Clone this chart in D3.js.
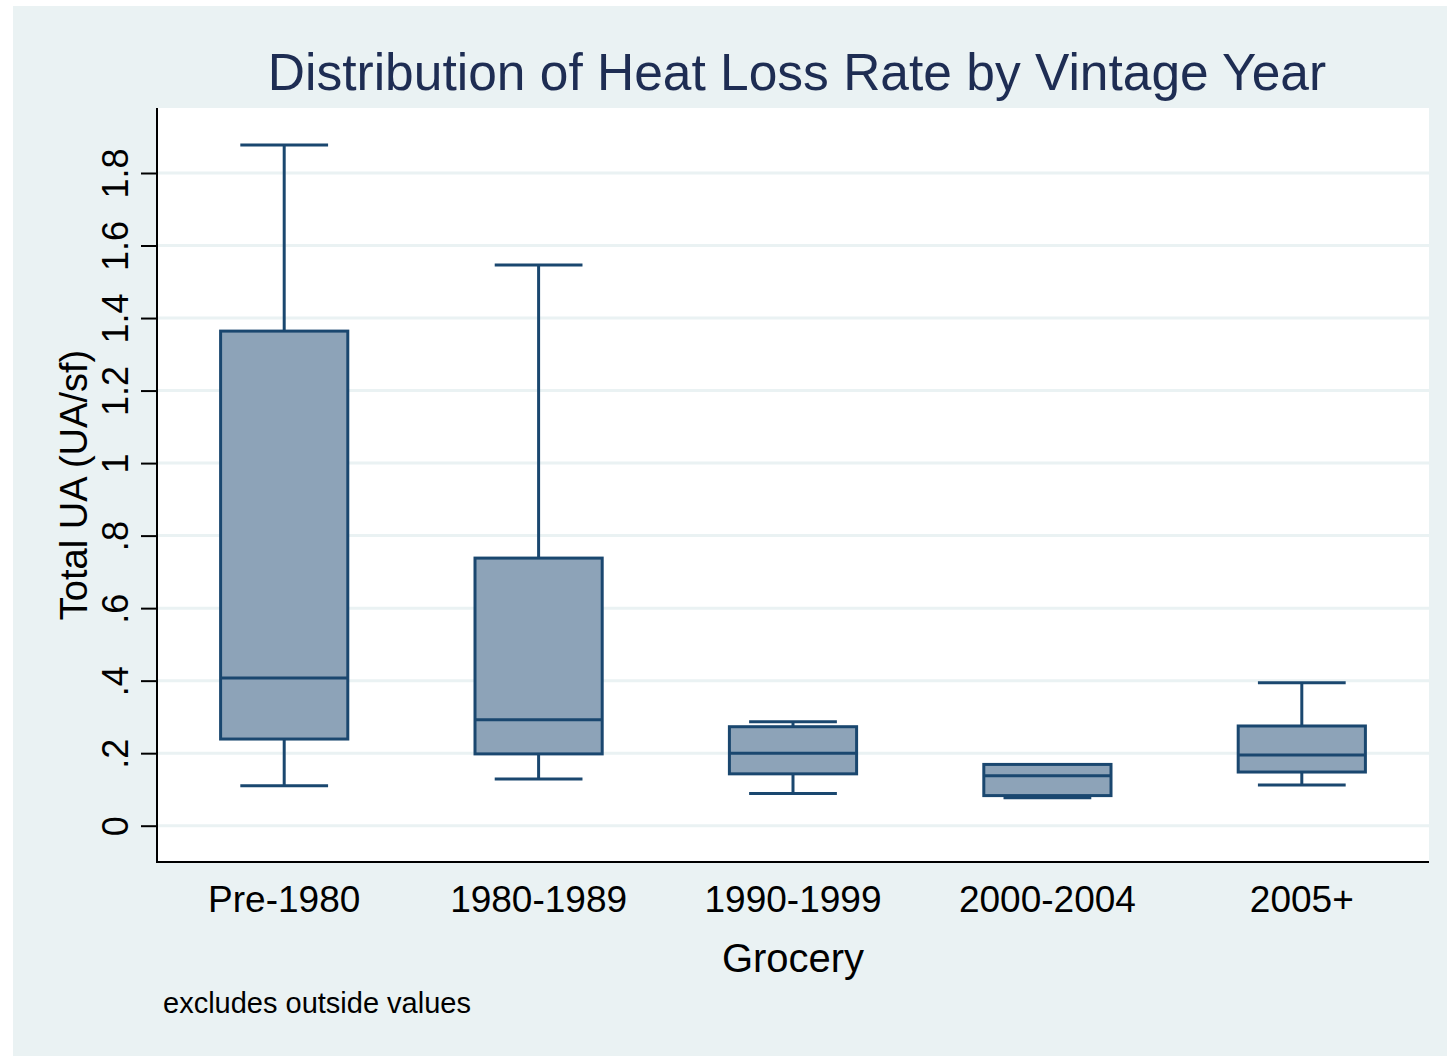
<!DOCTYPE html>
<html>
<head>
<meta charset="utf-8">
<script src="https://cdn.jsdelivr.net/npm/d3@7"></script>
<style>
  body { margin: 0; background: #ffffff; }
  text { font-family: "Liberation Sans", Arial, sans-serif; }
</style>
</head>
<body>
<svg id="chart"></svg>
<script>
// data
var categories = ["Pre-1980", "1980-1989", "1990-1999", "2000-2004", "2005+"]
var whiskerLow = [0.110, 0.129, 0.089, 0.077, 0.112]
var q1 = [0.239, 0.198, 0.143, 0.083, 0.148]
var median = [0.407, 0.292, 0.200, 0.138, 0.195]
var q3 = [1.364, 0.738, 0.273, 0.169, 0.275]
var whiskerHigh = [1.877, 1.546, 0.287, 0.169, 0.394]
var yTicks = [0, 0.2, 0.4, 0.6, 0.8, 1, 1.2, 1.4, 1.6, 1.8]
var yTickLabels = ["0", ".2", ".4", ".6", ".8", "1", "1.2", "1.4", "1.6", "1.8"]

function drawChart() {
    let width = 1447, height = 1056;
    var plot = { left: 157, top: 108, right: 1429, bottom: 862 };
    var navy = "#1a476f", boxFill = "#8da3b8", bg = "#eaf2f3";

    var svg = d3.select("#chart")
        .attr("width", width)
        .attr("height", height)

    // outer background
    svg.append("rect")
        .attr("x", 13).attr("y", 6)
        .attr("width", width - 13).attr("height", height - 6)
        .attr("fill", bg);
    // plot region
    svg.append("rect")
        .attr("x", plot.left).attr("y", plot.top)
        .attr("width", plot.right - plot.left).attr("height", plot.bottom - plot.top)
        .attr("fill", "white");

    var xScale = d3.scaleBand()
        .domain(categories)
        .range([plot.left, plot.right]);
    var yScale = d3.scaleLinear()
        .domain([0, 1.8])
        .range([825.7, 173]);

    // gridlines
    svg.append("g")
        .selectAll("line")
        .data(yTicks)
        .enter()
        .append("line")
        .attr("x1", plot.left).attr("x2", plot.right)
        .attr("y1", d => yScale(d)).attr("y2", d => yScale(d))
        .attr("stroke", bg)
        .attr("stroke-width", 3);

    var rows = categories.map((c, i) => ({
        cat: c, lo: whiskerLow[i], q1: q1[i], med: median[i], q3: q3[i], hi: whiskerHigh[i]
    }))
    var boxW = xScale.bandwidth() * 0.5, capW = xScale.bandwidth() * 0.345;
    var cx = d => xScale(d.cat) + xScale.bandwidth() / 2;

    var boxes = svg.append("g").selectAll("g")
        .data(rows)
        .enter()
        .append("g");
    // whisker stems
    boxes.append("line")
        .attr("x1", cx).attr("x2", cx)
        .attr("y1", d => yScale(d.q3)).attr("y2", d => yScale(d.hi))
        .attr("stroke", navy).attr("stroke-width", 3);
    boxes.append("line")
        .attr("x1", cx).attr("x2", cx)
        .attr("y1", d => yScale(d.q1)).attr("y2", d => yScale(d.lo))
        .attr("stroke", navy).attr("stroke-width", 3);
    // caps
    boxes.append("line")
        .attr("x1", d => cx(d) - capW / 2).attr("x2", d => cx(d) + capW / 2)
        .attr("y1", d => yScale(d.hi)).attr("y2", d => yScale(d.hi))
        .attr("stroke", navy).attr("stroke-width", 3);
    boxes.append("line")
        .attr("x1", d => cx(d) - capW / 2).attr("x2", d => cx(d) + capW / 2)
        .attr("y1", d => yScale(d.lo)).attr("y2", d => yScale(d.lo))
        .attr("stroke", navy).attr("stroke-width", 3);
    // box
    boxes.append("rect")
        .attr("x", d => cx(d) - boxW / 2)
        .attr("y", d => yScale(d.q3))
        .attr("width", boxW)
        .attr("height", d => yScale(d.q1) - yScale(d.q3))
        .attr("fill", boxFill)
        .attr("stroke", navy).attr("stroke-width", 3);
    // median
    boxes.append("line")
        .attr("x1", d => cx(d) - boxW / 2).attr("x2", d => cx(d) + boxW / 2)
        .attr("y1", d => yScale(d.med)).attr("y2", d => yScale(d.med))
        .attr("stroke", navy).attr("stroke-width", 3);

    // y axis
    var yAxis = svg.append("g")
        .attr("transform", "translate(" + plot.left + ",0)")
        .call(d3.axisLeft(yScale).tickValues(yTicks).tickSize(16).tickFormat((d, i) => yTickLabels[i]));
    yAxis.select(".domain").remove();
    yAxis.selectAll(".tick line").attr("stroke", "#000").attr("stroke-width", 2);
    yAxis.selectAll(".tick text")
        .attr("x", null).attr("dy", null)
        .attr("transform", "translate(-42,0) rotate(-90)")
        .attr("text-anchor", "middle")
        .attr("dy", "0.35em")
        .attr("fill", "#000")
        .style("font-size", "36px");
    svg.append("line")
        .attr("x1", plot.left).attr("x2", plot.left)
        .attr("y1", plot.top).attr("y2", plot.bottom + 1)
        .attr("stroke", "#000").attr("stroke-width", 2);

    // x axis
    var xAxis = svg.append("g")
        .attr("transform", "translate(0," + plot.bottom + ")")
        .call(d3.axisBottom(xScale).tickSize(0));
    xAxis.select(".domain").remove();
    xAxis.selectAll(".tick text")
        .attr("y", 50).attr("dy", 0)
        .attr("fill", "#000")
        .style("font-size", "37px");
    svg.append("line")
        .attr("x1", plot.left - 1).attr("x2", plot.right)
        .attr("y1", plot.bottom).attr("y2", plot.bottom)
        .attr("stroke", "#000").attr("stroke-width", 2);

    // titles
    svg.append("text")
        .attr("x", 797).attr("y", 90)
        .attr("text-anchor", "middle")
        .attr("fill", "#1e2d53")
        .style("font-size", "51.5px")
        .text("Distribution of Heat Loss Rate by Vintage Year");
    svg.append("text")
        .attr("transform", "translate(87,485) rotate(-90)")
        .attr("text-anchor", "middle")
        .attr("fill", "#000")
        .style("font-size", "38px")
        .text("Total UA (UA/sf)");
    svg.append("text")
        .attr("x", (plot.left + plot.right) / 2).attr("y", 972)
        .attr("text-anchor", "middle")
        .attr("fill", "#000")
        .style("font-size", "40px")
        .text("Grocery");
    svg.append("text")
        .attr("x", 163).attr("y", 1013)
        .attr("fill", "#000")
        .style("font-size", "29px")
        .text("excludes outside values");
}
drawChart();
</script>
</body>
</html>
